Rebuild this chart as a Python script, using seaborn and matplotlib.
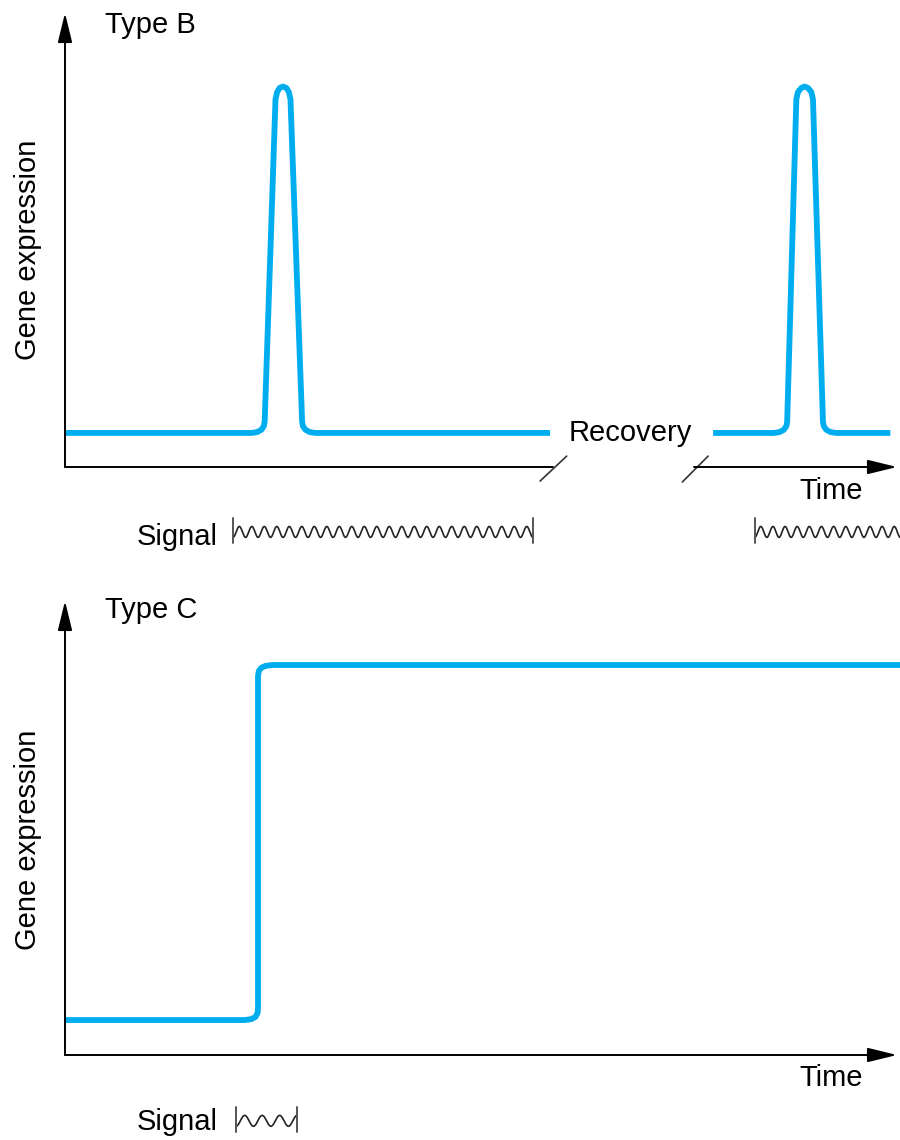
import matplotlib
matplotlib.use('Agg')
import matplotlib.pyplot as plt
import seaborn as sns
import numpy as np
import pandas as pd

sns.set_style("white")
plt.rcParams['font.family'] = ['Liberation Sans', 'DejaVu Sans']
plt.rcParams['text.color'] = 'black'

# --- data (time 0-100, expression 0-1) ---
# Type B: transient pulse, recovery, second pulse
b1_time = [0, 22.4, 23.1, 23.6, 23.9, 24.0, 25.3, 25.5, 25.8, 26.2, 26.6, 26.9, 27.1,
           28.5, 28.6, 28.9, 29.4, 30.1, 58.3]
b1_expr = [0.075, 0.075, 0.077, 0.082, 0.090, 0.100, 0.810, 0.826, 0.835, 0.838, 0.835, 0.826, 0.810,
           0.100, 0.090, 0.082, 0.077, 0.075, 0.075]
b2_time = [77.9, 85.2, 85.9, 86.4, 86.7, 86.8, 87.9, 88.1, 88.5, 88.9, 89.3, 89.7, 89.9,
           91.1, 91.2, 91.5, 92.0, 92.7, 99.2]
b2_expr = [0.075, 0.075, 0.077, 0.082, 0.090, 0.100, 0.810, 0.826, 0.835, 0.838, 0.835, 0.826, 0.810,
           0.100, 0.090, 0.082, 0.077, 0.075, 0.075]
# Type C: sustained switch
c_time = [0, 21.6, 22.4, 22.9, 23.15, 23.2, 23.2, 23.3, 23.6, 24.1, 24.9, 100.4]
c_expr = [0.077, 0.077, 0.079, 0.084, 0.093, 0.104, 0.835, 0.846, 0.853, 0.857, 0.859, 0.859]

# signal windows (start, end, number of cycles drawn)
b_signal_start = [20.2, 82.9]
b_signal_end = [56.25, 100.4]
b_signal_cycles = [24, 12]
b_signal_ticks = [True, False]
c_signal_start = [20.55]
c_signal_end = [27.9]
c_signal_cycles = [3.5]
c_signal_ticks = [True]

CURVE = '#00AEEF'
FS = 21

fig = plt.figure(figsize=(9, 11.4), dpi=100)


def make_axes(top_px, bottom_px):
    H = 1140.0
    ax = fig.add_axes([65 / 900, 1 - bottom_px / H, 832 / 900, (bottom_px - top_px) / H])
    ax.set_xlim(0, 100)
    ax.set_ylim(0, 1)
    ax.axis('off')
    return ax


def draw_curve(ax, t, e):
    df = pd.DataFrame({'time': t, 'expr': e})
    sns.lineplot(data=df, x='time', y='expr', sort=False, estimator=None,
                 color=CURVE, lw=4.2, ax=ax, clip_on=False,
                 solid_joinstyle='round', solid_capstyle='butt')


def arrow(ax, start, end):
    ax.annotate('', xy=end, xytext=start, xycoords='data', textcoords='data',
                arrowprops=dict(arrowstyle='-|>,head_length=0.9,head_width=0.22',
                                mutation_scale=20, lw=1.4, color='black',
                                shrinkA=0, shrinkB=0), annotation_clip=False)


def draw_signal(ax, starts, ends, cycles, ticks, y0):
    for s, e, n, tk in zip(starts, ends, cycles, ticks):
        u = np.linspace(0, 1, 600)
        x = s + (e - s) * u
        y = y0 - 0.012 * np.cos(2 * np.pi * n * u)
        ax.plot(x, y, color='#222222', lw=1.2, clip_on=False)
        ax.plot([s, s], [y0 - 0.025, y0 + 0.030], color='#555555', lw=1.4, clip_on=False)
        if tk:
            ax.plot([e, e], [y0 - 0.025, y0 + 0.030], color='#555555', lw=1.4, clip_on=False)


# ---------------- Type B ----------------
axB = make_axes(13, 467)
arrow(axB, (0, 0), (0, 1))
axB.plot([0, 58.7], [0, 0], color='black', lw=1.4, clip_on=False)
arrow(axB, (75.6, 0), (100, 0))
axB.plot([57.1, 60.3], [-0.031, 0.024], color='#333333', lw=1.2, clip_on=False)
axB.plot([74.2, 77.3], [-0.033, 0.024], color='#333333', lw=1.2, clip_on=False)
draw_curve(axB, b1_time, b1_expr)
draw_curve(axB, b2_time, b2_expr)
axB.text(68.0, 0.075, 'Recovery', fontsize=FS, ha='center', va='center')
axB.text(4.8, 0.974, 'Type B', fontsize=FS, ha='left', va='center')
axB.text(92.1, -0.053, 'Time', fontsize=FS, ha='center', va='center')
axB.text(-4.45, 0.478, 'Gene expression', fontsize=FS, rotation=90, ha='center', va='center')
axB.text(18.3, -0.154, 'Signal', fontsize=FS, ha='right', va='center')
draw_signal(axB, b_signal_start, b_signal_end, b_signal_cycles, b_signal_ticks, -0.143)

# ---------------- Type C ----------------
axC = make_axes(601, 1055)
arrow(axC, (0, 0), (0, 1))
arrow(axC, (0, 0), (100, 0))
draw_curve(axC, c_time, c_expr)
axC.text(4.8, 0.98, 'Type C', fontsize=FS, ha='left', va='center')
axC.text(92.1, -0.051, 'Time', fontsize=FS, ha='center', va='center')
axC.text(-4.45, 0.474, 'Gene expression', fontsize=FS, rotation=90, ha='center', va='center')
axC.text(18.3, -0.148, 'Signal', fontsize=FS, ha='right', va='center')
draw_signal(axC, c_signal_start, c_signal_end, c_signal_cycles, c_signal_ticks, -0.145)

fig.savefig('out.png', dpi=100)
